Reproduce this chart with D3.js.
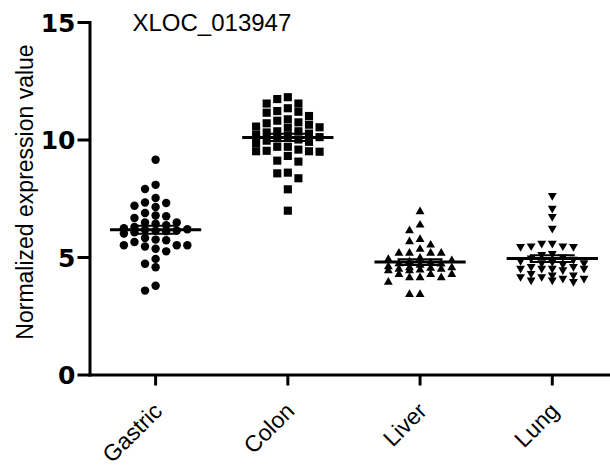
<!DOCTYPE html>
<html>
<head>
<meta charset="utf-8">
<script src="https://cdn.jsdelivr.net/npm/d3@7"></script>
<style>
	body { margin: 0; background: #fff; }
	svg { display: block; font-family: "Liberation Sans", Arial, sans-serif; }
	.axis path, .axis line { stroke: #000; stroke-width: 3; }
	.axis path { stroke-linecap: square; }
	.axis text { fill: #000; }
</style>
</head>
<body>
<div id="chart"></div>
<script>
// values (Normalized expression value)
var groups = ["Gastric", "Colon", "Liver", "Lung"];
var yTicks = [0, 5, 10, 15];
var title = "XLOC_013947";

var gastric = [9.14, 8.07, 7.89, 7.51, 7.13, 7.30, 7.32, 7.18, 6.77, 6.73, 6.87, 6.66, 6.47, 6.47, 6.42,
	6.13, 6.16, 5.64, 5.50, 5.45, 5.24, 5.35, 5.50, 5.50, 5.81, 5.74, 5.71, 4.92, 4.71, 4.56, 3.57, 3.78,
	6.35, 6.28, 6.22, 6.18, 6.12, 6.05, 6.00, 6.10];
var colon = [11.80, 11.72, 11.53, 11.53, 11.33, 11.18, 11.14, 11.21, 11.00, 10.80, 10.69, 10.55, 10.63,
	10.73, 10.86, 10.52, 10.50, 10.35, 10.35, 9.50, 9.48, 9.69, 9.57, 9.69, 9.50, 9.52, 9.06, 9.10, 9.30,
	8.35, 8.56, 8.59, 7.88, 6.97,
	10.30, 10.25, 10.20, 10.10, 10.00, 9.95, 9.90, 9.85, 10.15, 10.05];
var liver = [6.93, 6.36, 6.12, 5.65, 5.75, 5.51, 5.33, 5.16, 5.16, 5.16, 5.16,
	4.59, 4.52, 4.48, 4.45, 4.48, 4.55, 4.55, 4.42, 4.42, 4.26, 4.26, 4.26, 4.12, 4.12, 4.12, 3.93, 3.41, 3.41,
	4.95, 4.90, 4.85, 4.80, 4.75, 4.70, 4.65, 4.72];
var lung = [7.61, 7.07, 6.72, 6.22, 5.58, 5.47, 5.44, 5.44, 5.47, 5.58,
	4.59, 4.52, 4.52, 4.45, 4.52, 4.52, 4.59, 4.75, 4.16, 4.09, 4.02, 3.95, 4.02, 4.09, 4.16, 4.30, 4.23, 4.23,
	5.15, 5.10, 5.00, 4.95, 4.90, 4.85, 4.80, 4.75, 4.70];

var series = [gastric, colon, liver, lung];
var symbols = [d3.symbolCircle, d3.symbolSquare, d3.symbolTriangle, d3.symbolTriangle];
var symbolSizes = [56, 66, 34, 34];

var width = 610, height = 470;

var svg = d3.select("#chart").append("svg")
	.attr("width", width)
	.attr("height", height);

var y = d3.scaleLinear().domain([0, 15]).range([374.5, 22]);
var x = d3.scaleBand().domain(groups).range([89.5, 618.4]);
var bw = x.bandwidth();
var step = bw * 0.08; // column spacing of the scatter

// prism-like column scatter: each point takes the nearest free column
function swarm(values, cx){
	var pts = values.map(function(v){ return { v: v, y: y(v) }; })
		.sort(function(a, b){ return a.y - b.y; });
	var placed = [];
	var maxK = 3, minDy = 8;
	pts.forEach(function(p){
		var best = 0, bestD = -1;
		for(var j = 0; j <= 2 * maxK; j++){
			var k = j === 0 ? 0 : (j % 2 ? -Math.ceil(j / 2) : Math.ceil(j / 2));
			var same = placed.filter(function(q){ return q.k === k; });
			var d = same.length ? d3.min(same, function(q){ return Math.abs(q.y - p.y); }) : Infinity;
			if(d >= minDy){ best = k; bestD = d; break; }
			if(d > bestD){ bestD = d; best = k; }
		}
		p.k = best;
		placed.push(p);
	});
	placed.forEach(function(p){ p.x = cx + p.k * step; });
	return placed;
}

// axes
var yAxis = d3.axisLeft(y).tickValues(yTicks).tickSize(12).tickSizeOuter(0).tickPadding(2);
var gy = svg.append("g")
	.attr("class", "axis")
	.attr("transform", "translate(89.5,0)")
	.call(yAxis);
gy.selectAll("text")
	.attr("font-family", "'DejaVu Sans', sans-serif")
	.attr("font-size", 25)
	.attr("font-weight", "bold")
	.attr("dy", "0.36em");

var xAxis = d3.axisBottom(x).tickSize(11).tickSizeOuter(0);
var gx = svg.append("g")
	.attr("class", "axis")
	.attr("transform", "translate(0,374.5)")
	.call(xAxis);
gx.selectAll("text")
	.attr("x", 0).attr("y", 0).attr("dy", 0)
	.attr("text-anchor", "end")
	.attr("transform", "translate(8,38) rotate(-45)")
	.attr("font-size", 23);

// y title
svg.append("text")
	.attr("transform", "translate(33,192) rotate(-90)")
	.attr("text-anchor", "middle")
	.style("font-size", "23px")
	.text("Normalized expression value");

svg.append("text")
	.attr("x", 132.5)
	.attr("y", 30.5)
	.style("font-size", "24px")
	.text(title);

// points
groups.forEach(function(g, i){
	var cx = x(g) + bw / 2;
	var pts = swarm(series[i], cx);
	var sym = d3.symbol().type(symbols[i]).size(symbolSizes[i]);

	svg.append("g")
		.attr("class", "points")
		.selectAll("path")
		.data(pts)
	.enter().append("path")
		.attr("d", sym)
		.attr("fill", "#000")
		.attr("transform", function(d){
			return "translate(" + d.x + "," + d.y + ")" + (i === 3 ? " rotate(180)" : "");
		});

	// mean and SEM
	var m = d3.mean(series[i]);
	var sem = d3.deviation(series[i]) / Math.sqrt(series[i].length);
	var gm = svg.append("g").attr("class", "mean");
	gm.append("line")
		.attr("x1", cx - bw * 0.345).attr("x2", cx + bw * 0.345)
		.attr("y1", y(m)).attr("y2", y(m))
		.attr("stroke", "#000").attr("stroke-width", 3);
	gm.append("line")
		.attr("x1", cx).attr("x2", cx)
		.attr("y1", y(m - sem)).attr("y2", y(m + sem))
		.attr("stroke", "#000").attr("stroke-width", 2);
	[m - sem, m + sem].forEach(function(v){
		gm.append("line")
			.attr("x1", cx - bw * 0.17).attr("x2", cx + bw * 0.17)
			.attr("y1", y(v)).attr("y2", y(v))
			.attr("stroke", "#000").attr("stroke-width", 2);
	});
});
</script>
</body>
</html>
